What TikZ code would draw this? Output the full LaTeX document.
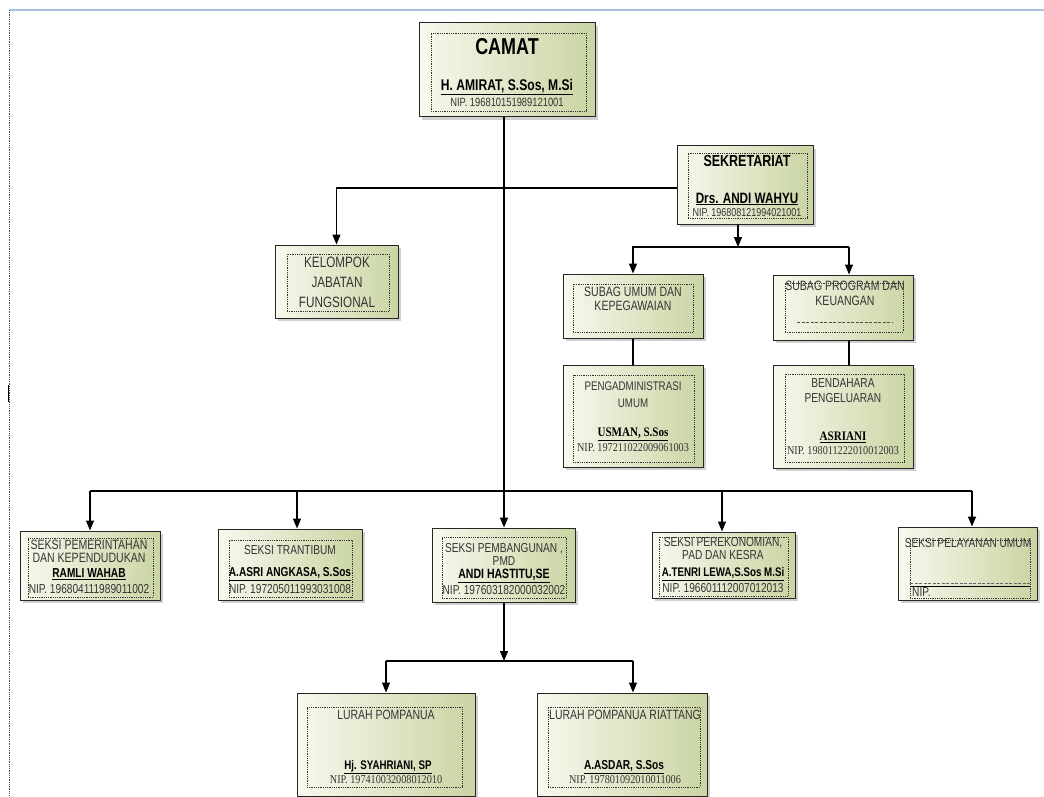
\documentclass[tikz,border=0pt]{standalone}
\usepackage{fontspec}
\setmainfont{Liberation Sans}[FakeStretch=0.78]
\newfontfamily\srf{Liberation Serif}[FakeStretch=0.85]
\usetikzlibrary{arrows.meta,shadows,fit,calc}
\definecolor{gA}{HTML}{F7F9EE}
\definecolor{gM}{HTML}{E9EED5}
\definecolor{gB}{HTML}{C9D4A2}
\definecolor{txt}{HTML}{353535}
\definecolor{topblue}{HTML}{A9C3DF}
\tikzset{
 box/.style={draw=black!85, line width=1pt, inner sep=0pt, left color=gA, middle color=gM, right color=gB,
   drop shadow={shadow xshift=3pt, shadow yshift=-3pt, opacity=0.3, fill=black!60}},
 inbox/.style={draw=black!80, densely dotted, line width=0.8pt, inner sep=0pt},
 ln/.style={draw=black, line width=1.3pt},
 arr/.style={ln, -{Triangle[length=10pt,width=8pt]}},
 tx/.style={inner sep=0pt, text=txt, align=center, font=\fontsize{12}{12}\selectfont},
 nip/.style={inner sep=0pt, text=txt, align=center, font=\fontsize{13}{13}\selectfont},
 bt/.style={inner sep=0pt, text=black, align=center, font=\bfseries\fontsize{13}{13}\selectfont},
 st/.style={inner sep=0pt, text=txt, align=center, font=\srf\fontsize{12}{12}\selectfont},
}
\begin{document}
\begin{tikzpicture}[x=1pt,y=-1pt]
\useasboundingbox (0,0) rectangle (1044,797);
\fill[white] (0,0) rectangle (1044,797);
% frame
\coordinate (fa) at (9,10); \coordinate (fb) at (1044,10); \coordinate (fc) at (9,797);
\draw[topblue, line width=2pt] (fa) -- (fb);
\draw[black!70, densely dotted, line width=0.8pt] (fa) -- (fc);
\coordinate (tk1) at (8,385); \coordinate (tk2) at (8,402);
\draw[black, line width=1pt] (tk1) -- (tk2);

% boxes
\node[box, fit={(419,23) (595,117)}] (camat) {};
\node[inbox, fit={(431,33) (586,111)}] (camatI) {};
\node[box, fit={(677,146) (813,224)}] (sek) {};
\node[inbox, fit={(688,153) (807,218)}] (sekI) {};
\node[box, fit={(275,245) (398,318)}] (kel) {};
\node[inbox, fit={(287,254) (389,311)}] (kelI) {};
\node[box, fit={(563,274) (703,338)}] (subu) {};
\node[inbox, fit={(573,284) (693,332)}] (subuI) {};
\node[box, fit={(773,275) (913,340)}] (subp) {};
\node[inbox, fit={(785,283) (903,332)}] (subpI) {};
\node[box, fit={(563,365) (703,467)}] (peng) {};
\node[inbox, fit={(573,375) (694,462)}] (pengI) {};
\node[box, fit={(773,365) (913,468)}] (bend) {};
\node[inbox, fit={(785,374) (904,462)}] (bendI) {};
\node[box, fit={(20,531) (160,600)}] (pem) {};
\node[inbox, fit={(28,538) (153,597)}] (pemI) {};
\node[box, fit={(218,529) (362,600)}] (tra) {};
\node[inbox, fit={(229,540) (352,597)}] (traI) {};
\node[box, fit={(432,528) (575,602)}] (pemb) {};
\node[inbox, fit={(442,537) (566,598)}] (pembI) {};
\node[box, fit={(652,532) (795,598)}] (pere) {};
\node[inbox, fit={(659,537) (788,596)}] (pereI) {};
\node[box, fit={(898,527) (1037,600)}] (pel) {};
\node[inbox, fit={(910,540) (1030,598)}] (pelI) {};
\node[box, fit={(297,693) (475,796)}] (lur1) {};
\node[inbox, fit={(307,707) (462,787)}] (lur1I) {};
\node[box, fit={(537,693) (707,796)}] (lur2) {};
\node[inbox, fit={(548,707) (700,787)}] (lur2I) {};

% connectors
\coordinate (cx) at (504,188);
\draw[arr] (camat.south -| cx) -- (pemb.north -| cx);
\draw[arr] (sek.west |- cx) -| (kel.north);
\coordinate (sb) at (738,247);
\draw[arr] (sek.south -| sb) -- (sb);
\draw[arr] (sb) -| (subu.north);
\coordinate (sp) at (849,247);
\draw[ln] (sb) -- (sp);
\draw[arr] (sp) -- (subp.north -| sp);
\draw[ln] (subu.south) -- (peng.north);
\draw[ln] (subp.south -| sp) -- (bend.north -| sp);
\coordinate (b1) at (90,491); \coordinate (b2) at (297,491); \coordinate (b3) at (504,491);
\coordinate (b4) at (722,491); \coordinate (b5) at (972,491);
\draw[ln] (b1) -- (b5);
\draw[arr] (b1) -- (b1 |- pem.north);
\draw[arr] (b2) -- (b2 |- tra.north);
\draw[arr] (b4) -- (b4 |- pere.north);
\draw[arr] (b5) -- (b5 |- pel.north);
\coordinate (lb) at (504,661); \coordinate (l1) at (386,661); \coordinate (l2) at (633,661);
\draw[arr] (pemb.south -| lb) -- (lb);
\draw[ln] (l1) -- (l2);
\draw[arr] (l1) -- (l1 |- lur1.north);
\draw[arr] (l2) -- (l2 |- lur2.north);

% texts
\node[bt, font=\bfseries\fontsize{23}{23}\selectfont] (t1) at (507,47) {CAMAT};
\node[bt, font=\bfseries\fontsize{15.5}{15.5}\selectfont] (t2) at (507,87) {\underline{H. AMIRAT, S.Sos, M.Si}};
\node[tx] (t3) at (507,102) {NIP. 196810151989121001};

\node[bt, font=\bfseries\fontsize{16}{16}\selectfont] (t4) at (747,161) {SEKRETARIAT};
\node[bt, font=\bfseries\fontsize{15}{15}\selectfont] (t5) at (747,199) {\underline{Drs. ANDI WAHYU}};
\node[tx, font=\fontsize{11.5}{11.5}\selectfont] (t6) at (747,213) {NIP. 196808121994021001};

\node[tx, font=\fontsize{15}{20}\selectfont] (t7) at (337,282) {KELOMPOK\\JABATAN\\FUNGSIONAL};

\node[tx, font=\fontsize{13.5}{14}\selectfont] (t8) at (633,299) {SUBAG UMUM DAN\\KEPEGAWAIAN};
\node[tx, font=\fontsize{13.5}{15}\selectfont] (t9) at (845,293) {SUBAG PROGRAM DAN\\KEUANGAN};
\coordinate (d1) at (797,322); \coordinate (d2) at (892,322);
\draw[black!70, dashed, dash pattern=on 3pt off 1.5pt, line width=0.7pt] (d1) -- (d2);

\node[tx, font=\fontsize{12.5}{17}\selectfont] (t10) at (633,395) {PENGADMINISTRASI\\UMUM};
\node[st, font=\srf\bfseries\fontsize{13}{13}\selectfont, text=black] (t11) at (633,434) {\underline{USMAN, S.Sos}};
\node[st] (t12) at (633,448) {NIP. 197211022009061003};

\node[tx, font=\fontsize{13}{15}\selectfont] (t13) at (843,391) {BENDAHARA\\PENGELUARAN};
\node[st, font=\srf\bfseries\fontsize{13}{13}\selectfont, text=black] (t14) at (843,437) {\underline{ASRIANI}};
\node[st] (t15) at (843,451) {NIP. 198011222010012003};

\node[tx, font=\fontsize{13.5}{13}\selectfont] (t16) at (89,551) {SEKSI PEMERINTAHAN\\DAN KEPENDUDUKAN};
\node[bt, font=\bfseries\fontsize{13}{13}\selectfont] (t17) at (89,574) {\underline{RAMLI WAHAB}};
\node[nip] (t18) at (89,589) {NIP. 196804111989011002};

\node[tx, font=\fontsize{13}{13}\selectfont] (t19) at (290,550) {SEKSI TRANTIBUM};
\node[bt, font=\bfseries\fontsize{13}{13}\selectfont] (t20) at (290,574) {\underline{A.ASRI ANGKASA, S.Sos}};
\node[nip] (t21) at (290,589) {NIP. 197205011993031008};

\node[tx, font=\fontsize{13}{13}\selectfont] (t22) at (504,554) {SEKSI PEMBANGUNAN ,\\PMD};
\node[bt, font=\bfseries\fontsize{13.5}{13.5}\selectfont] (t23) at (504,576) {\underline{ANDI HASTITU,SE}};
\node[nip] (t24) at (504,590) {NIP. 197603182000032002};

\node[tx, font=\fontsize{13}{13}\selectfont] (t25) at (723,549) {SEKSI PEREKONOMIAN,\\PAD DAN KESRA};
\node[bt, font=\bfseries\fontsize{12.5}{12.5}\selectfont] (t26) at (723,574) {\underline{A.TENRI LEWA,S.Sos M.Si}};
\node[nip] (t27) at (723,588) {NIP. 196601112007012013};

\node[tx, font=\fontsize{13}{13}\selectfont] (t28) at (968,543) {SEKSI PELAYANAN UMUM};
\coordinate (p1) at (910,583); \coordinate (p2) at (1030,583);
\coordinate (p3) at (910,586); \coordinate (p4) at (1030,586);
\draw[black!60, dashed, dash pattern=on 3pt off 1.5pt, line width=0.6pt] (p1) -- (p2);
\draw[black, line width=1pt] (p3) -- (p4);
\node[nip, anchor=west] (t29) at (912,592) {NIP.};

\node[tx, font=\fontsize{13.4}{13.4}\selectfont] (t30) at (386,715) {LURAH POMPANUA};
\node[bt, font=\bfseries\fontsize{12.5}{12.5}\selectfont] (t31) at (388,767) {\underline{Hj. SYAHRIANI, SP}};
\node[st] (t32) at (386,780) {NIP. 197410032008012010};

\node[tx, font=\fontsize{13.4}{13.4}\selectfont] (t33) at (625,715) {LURAH POMPANUA RIATTANG};
\node[bt, font=\bfseries\fontsize{13}{13}\selectfont] (t34) at (624,767) {\underline{A.ASDAR, S.Sos}};
\node[st] (t35) at (625,780) {NIP. 197801092010011006};
\end{tikzpicture}
\end{document}
